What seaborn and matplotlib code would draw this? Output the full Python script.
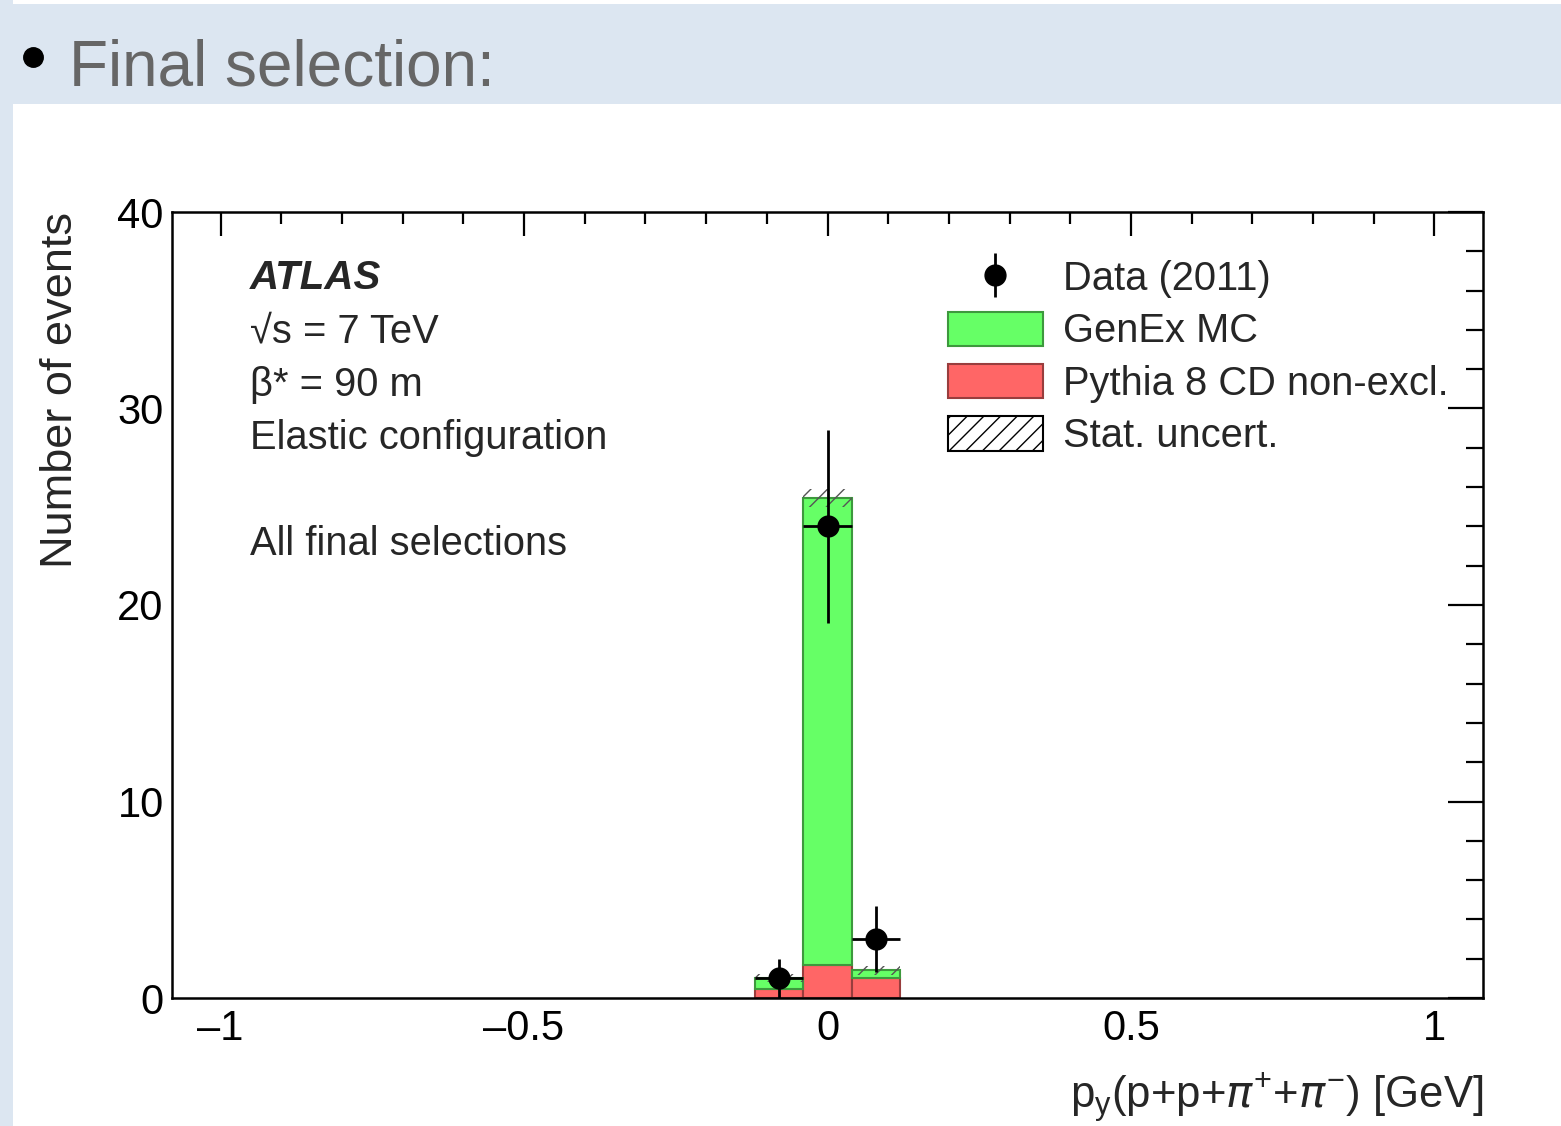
import numpy as np
import pandas as pd
import matplotlib
matplotlib.use("Agg")
import matplotlib.pyplot as plt
from matplotlib.patches import Rectangle, Patch
from matplotlib.lines import Line2D
from matplotlib.legend_handler import HandlerTuple
from matplotlib.ticker import MultipleLocator, FuncFormatter
import seaborn as sns

# histogram binning (GeV)
bin_edges = [-0.12, -0.04, 0.04, 0.12]
bin_centers = [-0.08, 0.0, 0.08]

# MC stack
genex_counts = [0.55, 23.75, 0.4]
pythia_counts = [0.45, 1.7, 1.0]
mc_stat_err = [0.2, 0.45, 0.25]

# data points
data_counts = [1, 24, 3]
data_err = [1.0, 4.9, 1.7]

info_lines = ["√s = 7 TeV", "β* = 90 m", "Elastic configuration", "", "All final selections"]

sns.set_style("white")
plt.rcParams['font.family'] = ['Liberation Sans', 'DejaVu Sans']
plt.rcParams['hatch.linewidth'] = 1.0

fig = plt.figure(figsize=(15.61, 11.26), dpi=100)

# slide decoration
band = "#dce6f1"
fig.patches.append(Rectangle((0, 1 - 104 / 1126), 1, 100 / 1126, transform=fig.transFigure,
                             facecolor=band, edgecolor="none", zorder=0))
fig.patches.append(Rectangle((0, 0), 13 / 1561, 1, transform=fig.transFigure,
                             facecolor=band, edgecolor="none", zorder=0))
fig.add_artist(Line2D([33 / 1561], [1 - 57 / 1126], marker="o", markersize=14,
                      color="black", transform=fig.transFigure))
fig.text(0.0445, 1 - 85 / 1126, "Final selection:", fontsize=46, color="#666666", va="baseline")

ax = fig.add_axes([172 / 1561, 1 - 998 / 1126, 1311 / 1561, 786 / 1126])

df = pd.DataFrame({
    "x": bin_centers * 2,
    "w": genex_counts + pythia_counts,
    "sample": ["GenEx MC"] * 3 + ["Pythia 8 CD non-excl."] * 3,
})
green, red = "#66ff66", "#ff6666"
sns.histplot(data=df, x="x", weights="w", hue="sample", bins=bin_edges, multiple="stack",
             hue_order=["GenEx MC", "Pythia 8 CD non-excl."],
             palette={"GenEx MC": green, "Pythia 8 CD non-excl.": red},
             alpha=1, linewidth=1.5, legend=False, ax=ax, zorder=2)
for cont in ax.containers:
    for p in cont:
        fc = p.get_facecolor()
        p.set_edgecolor((fc[0] * 0.6, fc[1] * 0.6, fc[2] * 0.6, 1))

# stat. uncertainty band
totals = np.array(genex_counts) + np.array(pythia_counts)
err = np.array(mc_stat_err)
ax.bar(bin_centers, 2 * err, bottom=totals - err, width=0.08, fill=False, hatch="//",
       edgecolor="#555555", linewidth=0, zorder=3)

ax.errorbar(bin_centers, data_counts, yerr=data_err, xerr=0.04, fmt="o", color="black",
            markersize=15, elinewidth=2, capsize=0, zorder=5)

ax.set_xlim(-1.08, 1.08)
ax.set_ylim(0, 40)
ax.xaxis.set_major_locator(MultipleLocator(0.5))
ax.xaxis.set_minor_locator(MultipleLocator(0.1))
ax.yaxis.set_major_locator(MultipleLocator(10))
ax.yaxis.set_minor_locator(MultipleLocator(2))
ax.xaxis.set_major_formatter(FuncFormatter(
    lambda v, pos: "0" if abs(v) < 1e-9 else ("%g" % v).replace("-", "\u2013")))
ax.tick_params(axis="both", which="both", direction="in", top=True, right=True,
               labelsize=30, width=1.6, colors="black")
ax.tick_params(axis="x", which="major", length=17, pad=8)
ax.tick_params(axis="x", which="minor", length=8.5)
ax.tick_params(axis="y", which="major", length=25, pad=6)
ax.tick_params(axis="y", which="minor", length=12.5)
for s in ax.spines.values():
    s.set_linewidth(1.8)
    s.set_color("black")

ax.set_ylabel("Number of events", fontsize=32.5, loc="top", labelpad=26)
ax.set_xlabel(r"p$_\mathregular{y}$(p+p+$\pi^\mathregular{+}$+$\pi^\mathregular{-}$) [GeV]",
              fontsize=31.5, loc="right", labelpad=15)

# labels inside the frame
tx = (250 - 172) / 1311
ax.text(tx, (998 - 289) / 786, "ATLAS", transform=ax.transAxes, fontsize=29,
        fontweight="bold", fontstyle="italic", va="baseline")
for i, line in enumerate(info_lines):
    ax.text(tx, (998 - 343 - i * 53) / 786, line, transform=ax.transAxes,
            fontsize=28.7, va="baseline")

handles = [
    (Line2D([], [], marker="|", markersize=32, mew=2, color="black", ls="none"),
     Line2D([], [], marker="o", markersize=15, color="black", ls="none")),
    Patch(facecolor=green, edgecolor="#3d993d", linewidth=1.5),
    Patch(facecolor=red, edgecolor="#993d3d", linewidth=1.5),
    Patch(facecolor="white", edgecolor="black", hatch="//", linewidth=1.5),
]
labels = ["Data (2011)", "GenEx MC", "Pythia 8 CD non-excl.", "Stat. uncert."]
ax.legend(handles, labels, handler_map={tuple: HandlerTuple(ndivide=1)},
          loc="upper left", bbox_to_anchor=((948 - 172) / 1311, 0.94), frameon=False,
          fontsize=28.7, handlelength=2.38, handleheight=0.95, handletextpad=0.5,
          labelspacing=0.34, borderpad=0, borderaxespad=0)

fig.savefig("out.png", dpi=100)
